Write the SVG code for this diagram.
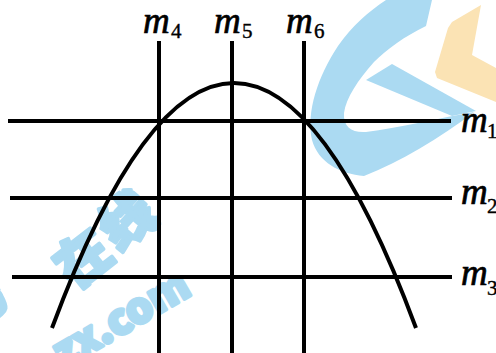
<svg xmlns="http://www.w3.org/2000/svg" width="496" height="353" viewBox="0 0 496 353">
<style>
.ln{stroke:#000;stroke-width:4;fill:none;stroke-linecap:butt}
.lab{font-family:"Liberation Serif",serif;font-style:italic;font-size:37px;fill:#000;stroke:#000;stroke-width:0.7}
.sub{font-family:"Liberation Serif",serif;font-style:normal;font-size:21px;fill:#000;stroke:#000;stroke-width:0.4}
.wm{fill:#abdaf2}
.wt{font-family:"Noto Sans CJK SC","Noto Sans",sans-serif;font-weight:900;fill:#abdaf2;stroke:#abdaf2;stroke-width:3.5;stroke-linejoin:round}
</style>
<rect width="496" height="353" fill="#fff"/>
<g id="watermark">
<path class="wm" d="M386,0 L432,0 L426,26 C405,36 386,50 374,62 C358,80 346,98 344,113 C343,127 352,133 366,132 C398,128 440,118 474,112 C440,138 400,162 364,176 C340,174 318,162 312,140 C306,112 318,76 338,46 C352,26 368,12 386,0 Z"/>
<path class="wm" d="M366,80 L392,64 L476,111 L452,116 Z"/>
<path fill="#fbe3b4" d="M452,22 L481,5 L472,55 L496,68 L496,102 L437,78 L435,72 L448,28 Z"/>
<text class="wt" font-size="54" text-anchor="middle" transform="translate(139,236) rotate(-38)">线</text>
<text class="wt" font-size="54" text-anchor="middle" transform="translate(95,274) rotate(-38)">在</text>
<text class="wt" font-size="54" text-anchor="middle" transform="translate(-6,314) rotate(-38)">考</text>
<text class="wt" font-size="42" text-anchor="end" stroke-width="2" transform="translate(193,294) rotate(-30)">zx.com</text>
</g>
<g id="connectors">
<line class="ln" x1="8" y1="121" x2="451" y2="121"/>
<line class="ln" x1="10" y1="198" x2="452" y2="198"/>
<line class="ln" x1="12" y1="277" x2="452" y2="277"/>
<line class="ln" x1="159" y1="41" x2="159" y2="353"/>
<line class="ln" x1="232" y1="41" x2="232" y2="353"/>
<line class="ln" x1="304" y1="41" x2="304" y2="353"/>
<path class="ln" d="M52,328 Q234,-162 416,328" stroke-linecap="round"/>
</g>
<g id="m4"><text class="lab" x="143" y="33">m</text><text class="sub" x="171" y="38">4</text></g>
<g id="m5"><text class="lab" x="214" y="33">m</text><text class="sub" x="242" y="38">5</text></g>
<g id="m6"><text class="lab" x="286" y="33">m</text><text class="sub" x="314" y="38">6</text></g>
<g id="m1"><text class="lab" x="461" y="132">m</text><text class="sub" x="487" y="138" font-size="18">1</text></g>
<g id="m2"><text class="lab" x="461" y="204">m</text><text class="sub" x="487" y="213" font-size="18">2</text></g>
<g id="m3"><text class="lab" x="461" y="285">m</text><text class="sub" x="487" y="295" font-size="18">3</text></g>
</svg>
